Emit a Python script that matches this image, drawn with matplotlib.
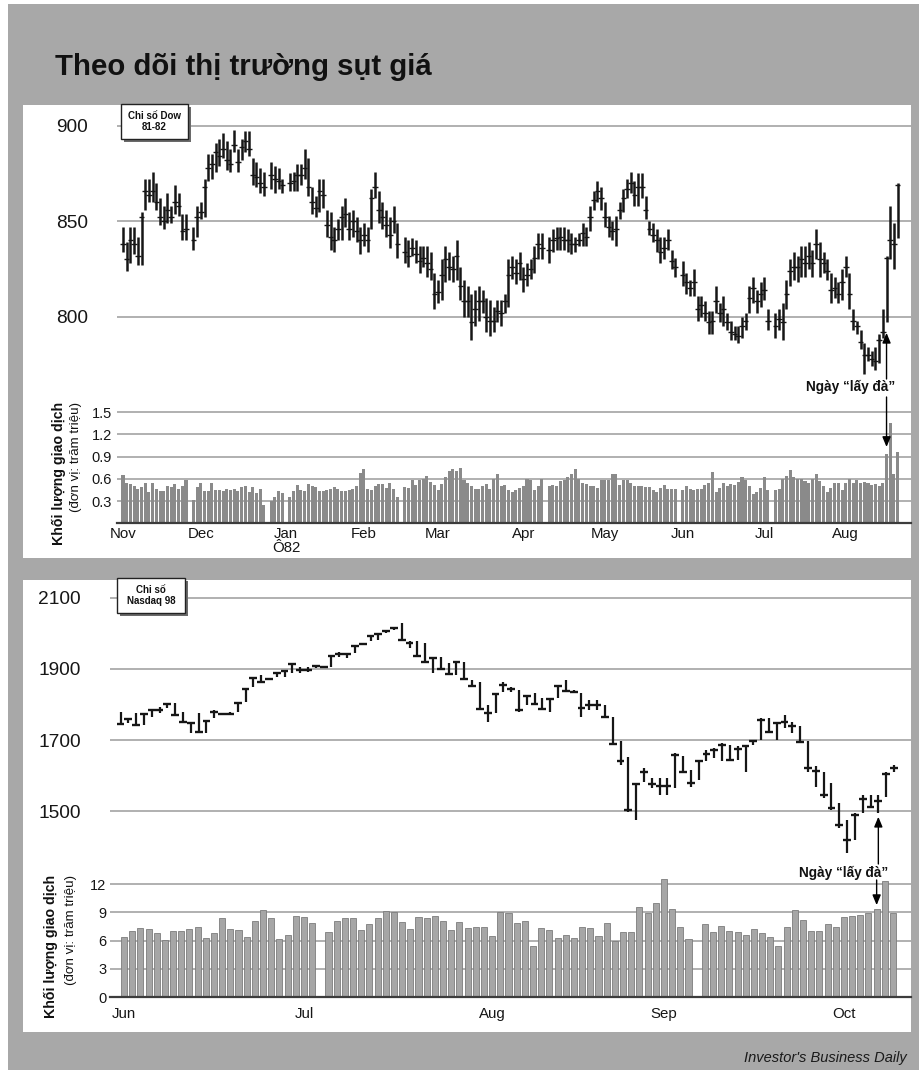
import numpy as np
import pandas as pd
import matplotlib
matplotlib.use("Agg")
import matplotlib.pyplot as plt
from matplotlib.patches import Rectangle
from matplotlib.transforms import blended_transform_factory

# ---------------------------------------------------------------- data
# Dow Jones 1981-82 (daily bars on a weekday calendar, holidays left empty)
dow_start, dow_end = "1981-11-02", "1982-08-20"
dow_holidays = ["1981-11-26", "1981-12-25", "1982-01-01", "1982-02-15",
                "1982-04-09", "1982-05-31", "1982-07-05"]

dow_high = [
    # Nov
    847, 839, 847, 847, 842, 855, 872, 872, 876, 870, 862, 858, 865, 858, 869, 865, 854, 854, 847, 858,
    # Dec
    860, 872, 885, 885, 891, 893, 896, 892, 888, 898, 888, 893, 897, 897, 883, 881, 878, 876, 881, 879, 878, 872,
    # Jan
    875, 876, 880, 880, 888, 883, 868, 863, 872, 872, 856, 855, 847, 851, 858, 862, 855, 856, 852, 847,
    # Feb
    849, 847, 867, 876, 866, 860, 856, 852, 858, 849, 842, 840, 841, 840, 837, 837, 837, 834, 823,
    # Mar
    819, 830, 837, 834, 832, 840, 826, 819, 816, 812, 814, 816, 814, 810, 809, 805, 809, 809, 812, 830, 832, 830, 834,
    # Apr
    826, 828, 830, 837, 844, 844, 842, 846, 847, 847, 847, 846, 844, 842, 844, 849, 847, 858, 866, 871, 868,
    # May
    860, 853, 850, 853, 860, 867, 872, 876, 871, 875, 875, 863, 850, 849, 846, 842, 842, 846, 835, 831,
    # Jun
    829, 823, 819, 825, 811, 811, 808, 803, 803, 816, 807, 811, 802, 798, 795, 795, 800, 802, 816, 821, 814, 818,
    # Jul
    821, 804, 802, 804, 807, 819, 830, 834, 832, 837, 837, 839, 835, 846, 839, 834, 830, 823, 821, 818, 825,
    # Aug
    832, 823, 804, 798, 793, 786, 784, 782, 784, 791, 804, 832, 858, 849, 870,
]
dow_low = [
    834, 824, 828, 833, 827, 827, 856, 860, 860, 856, 848, 846, 849, 849, 854, 853, 840, 840, 835, 842,
    851, 852, 871, 872, 876, 879, 883, 877, 876, 886, 876, 882, 886, 884, 869, 868, 865, 863, 867, 865, 867, 865,
    866, 866, 866, 869, 872, 863, 854, 852, 855, 857, 842, 835, 834, 840, 840, 847, 840, 842, 839, 833,
    837, 834, 846, 862, 849, 846, 842, 836, 844, 831, 828, 826, 832, 828, 823, 826, 821, 819, 804,
    807, 809, 818, 819, 818, 819, 809, 800, 800, 788, 795, 798, 802, 792, 790, 792, 797, 795, 802, 805, 820, 817, 819,
    813, 816, 820, 823, 830, 830, 828, 834, 835, 835, 835, 834, 833, 834, 837, 837, 837, 845, 856, 860, 856,
    847, 842, 840, 837, 851, 855, 862, 865, 858, 858, 862, 851, 843, 839, 834, 828, 830, 835, 825, 821,
    816, 812, 811, 811, 798, 800, 798, 791, 791, 802, 797, 795, 793, 788, 788, 786, 789, 793, 802, 807, 802, 805,
    809, 793, 789, 793, 788, 804, 816, 819, 818, 821, 821, 825, 821, 830, 821, 823, 819, 807, 810, 807, 809,
    821, 804, 793, 791, 783, 770, 777, 774, 772, 776, 789, 797, 830, 825, 841,
]
dow_close = [
    838, 830, 840, 838, 832, 852, 866, 864, 866, 860, 852, 850, 856, 852, 860, 858, 845, 846, 840, 852,
    855, 868, 878, 880, 886, 884, 888, 882, 880, 890, 881, 889, 892, 888, 874, 873, 870, 868, 874, 872, 871, 869,
    870, 871, 874, 874, 878, 868, 860, 857, 866, 864, 848, 842, 840, 846, 852, 854, 846, 850, 845, 840,
    843, 840, 862, 868, 856, 852, 848, 843, 850, 838, 834, 832, 836, 833, 829, 831, 828, 825, 812,
    813, 822, 830, 826, 825, 832, 816, 808, 808, 797, 804, 808, 808, 800, 798, 798, 803, 802, 808, 822, 826, 823, 828,
    820, 822, 825, 831, 838, 836, 835, 840, 841, 842, 840, 840, 838, 838, 840, 844, 842, 852, 861, 866, 862,
    852, 847, 845, 846, 856, 862, 867, 870, 864, 868, 868, 856, 846, 843, 840, 834, 836, 840, 829, 826,
    822, 818, 815, 818, 804, 806, 802, 797, 798, 808, 802, 804, 797, 792, 791, 790, 795, 798, 810, 815, 808, 812,
    814, 798, 795, 799, 797, 812, 824, 826, 826, 830, 828, 832, 828, 838, 830, 828, 824, 814, 815, 812, 818,
    826, 812, 798, 795, 787, 780, 780, 778, 777, 788, 792, 831, 840, 838, 869,
]
# volume, hundreds of millions of shares
dow_volume = [
    0.65, 0.55, 0.53, 0.51, 0.46, 0.49, 0.54, 0.42, 0.55, 0.46, 0.44, 0.44, 0.50, 0.49, 0.53, 0.47, 0.50, 0.59, 0.32, 0.49,
    0.54, 0.44, 0.44, 0.55, 0.45, 0.45, 0.44, 0.47, 0.45, 0.46, 0.44, 0.49, 0.50, 0.42, 0.49, 0.41, 0.47, 0.25, 0.30, 0.35, 0.44, 0.41,
    0.35, 0.44, 0.52, 0.45, 0.43, 0.53, 0.50, 0.49, 0.43, 0.44, 0.45, 0.46, 0.49, 0.47, 0.44, 0.44, 0.45, 0.47, 0.50, 0.68,
    0.74, 0.47, 0.45, 0.50, 0.53, 0.53, 0.48, 0.55, 0.47, 0.36, 0.49, 0.48, 0.59, 0.52, 0.58, 0.60, 0.64, 0.56, 0.52,
    0.45, 0.53, 0.63, 0.70, 0.74, 0.70, 0.75, 0.59, 0.54, 0.50, 0.47, 0.47, 0.50, 0.53, 0.47, 0.60, 0.67, 0.50, 0.52, 0.45, 0.42, 0.45, 0.48,
    0.50, 0.60, 0.58, 0.45, 0.50, 0.60, 0.50, 0.52, 0.50, 0.57, 0.58, 0.62, 0.66, 0.74, 0.60, 0.55, 0.53, 0.50, 0.50, 0.48, 0.58,
    0.58, 0.58, 0.67, 0.67, 0.52, 0.59, 0.58, 0.54, 0.51, 0.50, 0.50, 0.49, 0.49, 0.45, 0.42, 0.48, 0.52, 0.47, 0.47, 0.46,
    0.45, 0.50, 0.47, 0.45, 0.46, 0.47, 0.52, 0.55, 0.69, 0.42, 0.48, 0.55, 0.50, 0.53, 0.52, 0.56, 0.62, 0.58, 0.50, 0.40, 0.42, 0.48,
    0.62, 0.45, 0.45, 0.47, 0.60, 0.64, 0.72, 0.63, 0.60, 0.60, 0.57, 0.55, 0.60, 0.67, 0.57, 0.50, 0.42, 0.48, 0.55, 0.55, 0.45,
    0.55, 0.60, 0.55, 0.58, 0.54, 0.56, 0.55, 0.52, 0.53, 0.50, 0.55, 0.93, 1.35, 0.66, 0.97,
]
dow_price_ticks = [800, 850, 900]
dow_vol_ticks = [0.3, 0.6, 0.9, 1.2, 1.5]
dow_vol_ticklabels = ["0.3", "0.6", "0.9", "1.2", "1.5"]
dow_month_dates = ["1981-11-02", "1981-12-01", "1982-01-01", "1982-02-01", "1982-03-01",
                   "1982-04-01", "1982-05-03", "1982-06-01", "1982-07-01", "1982-08-02"]
dow_month_labels = ["Nov", "Dec", "Jan\nÔ82", "Feb", "Mar", "Apr", "May", "Jun", "Jul", "Aug"]
dow_ftd_date = "1982-08-17"

# Nasdaq 1998 price bars (consecutive trading sessions)
ndq_high = [
    1780, 1761, 1775, 1775, 1786, 1792, 1805, 1803, 1780, 1752,
    1775, 1756, 1785, 1777, 1779, 1808, 1845, 1878, 1883, 1873,
    1892, 1897, 1916, 1906, 1906, 1911, 1909, 1939, 1948, 1944,
    1967, 1972, 1995, 2000, 2009, 2019, 2028, 1977, 1977, 1972,
    1934, 1934, 1916, 1923, 1920, 1869, 1864, 1799, 1831, 1864,
    1850, 1841, 1827, 1831, 1817, 1817, 1855, 1869, 1841, 1831,
    1813, 1813, 1799, 1766, 1696, 1653, 1579, 1621, 1593, 1593,
    1593, 1663, 1654, 1616, 1644, 1672, 1677, 1691, 1686, 1682,
    1686, 1700, 1761, 1761, 1752, 1771, 1752, 1738, 1696, 1626,
    1611, 1579, 1523, 1476, 1494, 1546, 1546, 1546, 1611, 1630,
]
ndq_low = [
    1742, 1747, 1740, 1742, 1766, 1775, 1789, 1768, 1747, 1719,
    1719, 1719, 1761, 1770, 1770, 1780, 1808, 1850, 1859, 1869,
    1878, 1878, 1888, 1888, 1890, 1902, 1904, 1906, 1934, 1930,
    1944, 1967, 1977, 1981, 2000, 2009, 1977, 1958, 1934, 1916,
    1888, 1897, 1883, 1883, 1869, 1850, 1785, 1752, 1775, 1836,
    1836, 1780, 1799, 1799, 1785, 1780, 1817, 1836, 1831, 1766,
    1785, 1785, 1761, 1686, 1630, 1499, 1475, 1583, 1565, 1546,
    1546, 1565, 1607, 1569, 1588, 1640, 1649, 1640, 1640, 1644,
    1611, 1686, 1700, 1719, 1700, 1733, 1719, 1691, 1611, 1569,
    1537, 1504, 1452, 1382, 1420, 1494, 1508, 1494, 1541, 1611,
]
ndq_close = [
    1745, 1758, 1742, 1772, 1783, 1784, 1801, 1770, 1750, 1749,
    1722, 1753, 1778, 1773, 1774, 1805, 1842, 1875, 1862, 1871,
    1889, 1893, 1913, 1897, 1898, 1909, 1906, 1936, 1941, 1941,
    1964, 1970, 1992, 1997, 2006, 2014, 1980, 1972, 1937, 1920,
    1931, 1900, 1886, 1920, 1872, 1852, 1788, 1775, 1828, 1855,
    1843, 1783, 1824, 1802, 1788, 1814, 1852, 1839, 1836, 1790,
    1799, 1799, 1764, 1690, 1640, 1502, 1575, 1610, 1575, 1570,
    1570, 1658, 1610, 1580, 1640, 1660, 1672, 1685, 1645, 1675,
    1682, 1697, 1756, 1722, 1748, 1752, 1740, 1695, 1620, 1612,
    1545, 1510, 1462, 1420, 1490, 1535, 1512, 1530, 1605, 1620,
]
ndq_ftd_bar = 97

# Nasdaq volume (weekday calendar, holidays left empty), hundreds of millions
ndq_vol_start, ndq_vol_end = "1998-06-01", "1998-10-09"
ndq_holidays = ["1998-07-03", "1998-09-07"]
ndq_volume = [
    6.4, 7.05, 7.3, 7.25, 6.8, 6.05, 7.05, 7.05, 7.2, 7.4, 6.3, 6.8, 8.35, 7.2, 7.15, 6.4,
    8.1, 9.25, 8.4, 6.15, 6.55, 8.6, 8.55, 7.9,
    6.95, 8.1, 8.4, 8.45, 7.1, 7.75, 8.45, 9.15, 9.0, 7.95, 7.25, 8.5, 8.35, 8.65, 8.05,
    7.15, 8.0, 7.3, 7.4, 7.4, 6.5, 9.05, 8.95, 7.85, 8.1, 5.45, 7.3, 7.15, 6.3, 6.6, 6.25,
    7.5, 7.3, 6.5, 7.85, 6.0, 6.9, 6.9, 9.6, 8.95, 9.95, 12.5, 9.35, 7.5, 6.2,
    7.75, 6.95, 7.6, 7.05, 6.9, 6.6, 7.2, 6.8, 6.4, 5.45, 7.5, 9.3, 8.2, 7.0, 7.0, 7.75,
    7.4, 8.55, 8.65, 8.7, 8.9, 9.4, 12.3, 8.9,
]
ndq_price_ticks = [1500, 1700, 1900, 2100]
ndq_vol_ticks = [0, 3, 6, 9, 12]
ndq_month_dates = ["1998-06-01", "1998-07-01", "1998-08-03", "1998-09-01", "1998-10-01"]
ndq_month_labels = ["Jun", "Jul", "Aug", "Sep", "Oct"]
ndq_ftd_vol_date = "1998-10-07"

# ---------------------------------------------------------------- style
plt.rcParams["font.family"] = ["Liberation Sans", "DejaVu Sans"]
NARROW = ["Liberation Sans Narrow", "Liberation Sans", "DejaVu Sans"]
BG_GRAY = "#a8a8a8"
GRID = "#a3a3a3"
INK = "#161616"

W, H = 919, 1070
fig = plt.figure(figsize=(W / 100, H / 100), dpi=100)
fig.patch.set_facecolor("white")


def px_axes(l, t, r, b, **kw):
    return fig.add_axes([l / W, 1 - b / H, (r - l) / W, (b - t) / H], **kw)


bg = px_axes(0, 0, W, H, zorder=-10)
bg.set_xlim(0, W)
bg.set_ylim(H, 0)
bg.axis("off")
bg.add_patch(Rectangle((8, 4), W - 8, H - 4, color=BG_GRAY, lw=0))
bg.add_patch(Rectangle((23, 105), 888, 453, color="white", lw=0))
bg.add_patch(Rectangle((23, 580), 888, 452, color="white", lw=0))


def clean(ax):
    ax.set_facecolor("none")
    for s in ax.spines.values():
        s.set_visible(False)
    ax.tick_params(length=0)
    ax.set_axisbelow(True)


# ---------------------------------------------------------------- Dow
wd = pd.bdate_range(dow_start, dow_end)
trade = wd[~wd.isin(pd.to_datetime(dow_holidays))]
x_dow = wd.get_indexer(trade)
dow_xlim = (-1.62, 212.6)

ax1 = px_axes(117, 108, 911, 395)
clean(ax1)
ax1.vlines(x_dow, dow_low, dow_high, color=INK, lw=1.8)
ax1.hlines(dow_close, x_dow - 0.75, x_dow + 0.75, color=INK, lw=1.0)
ax1.set_xlim(*dow_xlim)
ax1.set_ylim(759.0, 909.3)
ax1.set_xticks([])
ax1.set_yticks(dow_price_ticks)
ax1.set_yticklabels([str(v) for v in dow_price_ticks], fontsize=13.8, color=INK)
ax1.tick_params(axis="y", pad=21)
ax1.grid(axis="y", color=GRID, lw=1.2)

ax2 = px_axes(117, 400, 911, 523.3)
clean(ax2)
ax2.bar(x_dow, dow_volume, width=0.82, color="#8a8a8a", lw=0)
ax2.axhline(0, color="#3c3c3c", lw=1.6, clip_on=False)
ax2.set_xlim(*dow_xlim)
ax2.set_ylim(0, 1.666)
ax2.set_yticks(dow_vol_ticks)
ax2.set_yticklabels(dow_vol_ticklabels, fontsize=10.5, family=NARROW, color=INK)
ax2.tick_params(axis="y", pad=3.5)
ax2.set_xticks(wd.get_indexer(pd.to_datetime(dow_month_dates)))
ax2.set_xticklabels(dow_month_labels, fontsize=10.8, family=NARROW, color=INK,
                    linespacing=0.95)
ax2.tick_params(axis="x", pad=3)
ax2.grid(axis="y", color=GRID, lw=1.2)

# ---------------------------------------------------------------- Nasdaq
x_np = np.arange(len(ndq_high))
ax3 = px_axes(110, 583, 911, 868)
clean(ax3)
ax3.vlines(x_np, ndq_low, ndq_high, color=INK, lw=1.6)
ax3.hlines(ndq_close, x_np - 0.5, x_np + 0.5, color=INK, lw=1.7)
ax3.set_xlim(-1.344, 101.18)
ax3.set_ylim(1340.3, 2141.3)
ax3.set_xticks([])
ax3.set_yticks(ndq_price_ticks)
ax3.set_yticklabels([str(v) for v in ndq_price_ticks], fontsize=13.8, color=INK)
ax3.tick_params(axis="y", pad=21)
ax3.grid(axis="y", color=GRID, lw=1.2)

wd2 = pd.bdate_range(ndq_vol_start, ndq_vol_end)
trade2 = wd2[~wd2.isin(pd.to_datetime(ndq_holidays))]
x_nv = wd2.get_indexer(trade2)
ax4 = px_axes(110, 876, 911, 997.3)
clean(ax4)
ax4.bar(x_nv, ndq_volume, width=0.74, color="#a6a6a6", edgecolor="#7d7d7d", lw=0.6)
ax4.axhline(0, color="#3c3c3c", lw=1.6, clip_on=False)
ax4.set_xlim(-1.71, 96.2)
ax4.set_ylim(0, 12.85)
ax4.set_yticks(ndq_vol_ticks)
ax4.set_yticklabels([str(v) for v in ndq_vol_ticks], fontsize=10.5, family=NARROW, color=INK)
ax4.tick_params(axis="y", pad=2.5)
ax4.set_xticks(wd2.get_indexer(pd.to_datetime(ndq_month_dates)))
ax4.set_xticklabels(ndq_month_labels, fontsize=10.8, family=NARROW, color=INK)
ax4.tick_params(axis="x", pad=7)
ax4.grid(axis="y", color=GRID, lw=1.2)

# ---------------------------------------------------------------- overlay
ov = px_axes(0, 0, W, H, zorder=10)
ov.set_xlim(0, W)
ov.set_ylim(H, 0)
ov.axis("off")

# title & source
ov.text(55, 75, "Theo dõi thị trường sụt giá", fontsize=21.2, weight="bold",
        color="#111111", ha="left", va="baseline")
ov.text(907, 1058, "Investor's Business Daily", fontsize=10.5, style="italic",
        color="#1a1a1a", ha="right", va="center")


def label_box(l, t, r, b, text):
    ov.add_patch(Rectangle((l + 3, t + 3), r - l, b - t, color="#6a6a6a", lw=0))
    ov.add_patch(Rectangle((l, t), r - l, b - t, facecolor="white",
                           edgecolor="#222222", lw=1.0))
    ov.text((l + r) / 2, (t + b) / 2, text, fontsize=7, weight="bold",
            ha="center", va="center", linespacing=1.15, color="#111111")


label_box(121, 104, 188, 139, "Chi số Dow\n81-82")
label_box(117, 578, 185, 613, "Chi số\nNasdaq 98")

# rotated volume titles
for xb, xr, top in [(59, 76, 402), (51, 71, 875)]:
    ov.text(xb, top, "Khối lượng giao dịch", rotation=90, fontsize=10.2,
            weight="bold", ha="center", va="top", color="#111111")
    ov.text(xr, top, "(đơn vị: trăm triệu)", rotation=90, fontsize=9.6,
            ha="center", va="top", color="#111111")

# "Ngày lấy đà" annotations
arrow_kw = dict(arrowstyle="-|>,head_length=0.6,head_width=0.25",
                color="black", lw=1.0, mutation_scale=10, shrinkA=0)

ov.text(851, 391.5, "Ngày “lấy đà”", fontsize=9.8, weight="bold",
        ha="center", va="baseline", color="#111111")
ftd_i = list(trade).index(pd.Timestamp(dow_ftd_date))
ftd_x = x_dow[ftd_i]
ax1.annotate("", xy=(ftd_x, dow_low[ftd_i]), xycoords="data",
             xytext=(ftd_x, 379), textcoords=blended_transform_factory(ax1.transData, ov.transData),
             arrowprops=dict(**arrow_kw, shrinkB=7.5), annotation_clip=False)
ax2.annotate("", xy=(ftd_x, dow_volume[ftd_i]), xycoords="data",
             xytext=(ftd_x, 397), textcoords=blended_transform_factory(ax2.transData, ov.transData),
             arrowprops=dict(**arrow_kw, shrinkB=5.4), annotation_clip=False)

ov.text(843.5, 876.5, "Ngày “lấy đà”", fontsize=9.8, weight="bold",
        ha="center", va="baseline", color="#111111")
ax3.annotate("", xy=(ndq_ftd_bar, ndq_low[ndq_ftd_bar]), xycoords="data",
             xytext=(ndq_ftd_bar, 864), textcoords=blended_transform_factory(ax3.transData, ov.transData),
             arrowprops=dict(**arrow_kw, shrinkB=2.5), annotation_clip=False)
vi = list(trade2).index(pd.Timestamp(ndq_ftd_vol_date))
ax4.annotate("", xy=(x_nv[vi], ndq_volume[vi]), xycoords="data",
             xytext=(x_nv[vi], 880), textcoords=blended_transform_factory(ax4.transData, ov.transData),
             arrowprops=dict(**arrow_kw, shrinkB=2.5), annotation_clip=False)

assert len(dow_high) == len(dow_low) == len(dow_close) == len(dow_volume) == len(x_dow)
assert len(ndq_high) == len(ndq_low) == len(ndq_close)
assert len(ndq_volume) == len(x_nv)

fig.savefig("out.png", dpi=100, facecolor=fig.get_facecolor())
